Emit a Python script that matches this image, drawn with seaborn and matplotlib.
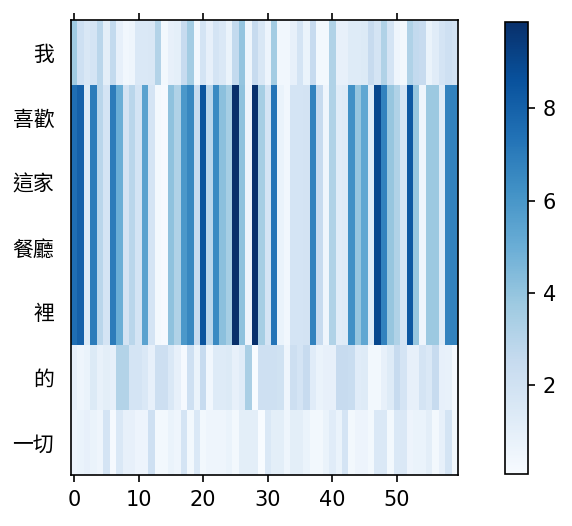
import numpy as np
import pandas as pd
import matplotlib
matplotlib.use("Agg")
import matplotlib.pyplot as plt
import seaborn as sns

# --- Data ---
row_labels = ["我", "喜歡", "這家", "餐廳", "裡", "的", "一切"]
x_tick_values = [0, 10, 20, 30, 40, 50]
cbar_ticks = [2, 4, 6, 8]

# row "我"
row_wo = [3.7, 2.1, 1.6, 1.8, 2.9, 1.1, 2.6, 0.9, 0.4, 0.5,
          1.5, 1.5, 1.6, 3.1, 0.3, 0.9, 1.0, 2.5, 3.6, 0.4,
          1.8, 0.9, 1.8, 1.5, 0.7, 2.6, 4.0, 0.5, 2.5, 1.6,
          0.6, 3.6, 0.4, 0.4, 0.9, 1.8, 0.7, 2.5, 0.3, 0.3,
          3.2, 0.9, 0.9, 1.3, 1.3, 1.4, 2.5, 1.8, 3.2, 1.8,
          0.5, 0.3, 3.2, 2.6, 2.5, 0.7, 1.2, 1.8, 2.1, 1.9]

# rows "喜歡", "這家", "餐廳", "裡" share the same values
row_block = [7.5, 8.0, 1.4, 7.0, 2.9, 1.8, 7.0, 5.0, 1.9, 2.9,
             1.8, 5.5, 1.8, 0.3, 0.2, 4.1, 3.2, 5.9, 6.6, 2.5,
             8.5, 2.9, 6.5, 4.2, 3.5, 9.87, 4.1, 0.6, 9.8, 3.5,
             1.8, 7.3, 0.7, 0.4, 1.8, 1.8, 1.9, 6.8, 2.5, 0.5,
             3.2, 1.2, 1.3, 6.2, 3.9, 5.3, 1.3, 9.0, 6.8, 3.9,
             3.2, 1.8, 8.4, 3.9, 0.5, 3.8, 3.8, 1.3, 6.8, 6.8]

# row "的"
row_de = [0.9, 0.5, 0.7, 1.4, 0.8, 1.1, 0.9, 3.1, 3.1, 1.8,
          1.8, 1.5, 0.9, 2.2, 2.2, 1.5, 0.9, 0.2, 2.1, 0.7,
          2.5, 0.4, 1.3, 1.3, 1.4, 0.9, 1.2, 3.4, 0.07, 2.1,
          2.1, 2.1, 2.0, 0.5, 2.2, 1.8, 2.5, 1.2, 0.7, 0.9,
          0.9, 2.5, 2.5, 2.4, 1.2, 1.3, 0.3, 0.3, 0.9, 1.3,
          2.5, 1.8, 0.9, 0.9, 1.8, 1.5, 2.5, 0.9, 0.8, 0.2]

# row "一切"
row_yiqie = [0.6, 0.7, 0.9, 0.7, 0.5, 1.8, 0.2, 1.5, 0.9, 0.9,
             0.6, 0.6, 2.1, 0.3, 0.3, 0.7, 0.5, 1.8, 0.3, 1.5,
             0.3, 0.5, 0.5, 0.5, 0.7, 0.3, 1.1, 1.1, 1.1, 0.1,
             1.5, 1.1, 1.1, 0.5, 1.1, 1.1, 0.7, 0.3, 0.3, 0.7,
             1.2, 0.7, 1.8, 0.3, 0.6, 0.6, 0.3, 1.5, 1.5, 0.3,
             1.5, 1.5, 0.6, 0.7, 0.7, 1.1, 0.3, 0.9, 1.8, 0.3]

matrix = pd.DataFrame(
    [row_wo, row_block, row_block, row_block, row_block, row_de, row_yiqie],
    index=row_labels,
)

plt.rcParams['font.family'] = ['DejaVu Sans', 'Noto Sans CJK TC']

fig = plt.figure(figsize=(572 / 150, 526 / 150), dpi=150)
ax = fig.add_axes([0.124, 0.097, 0.677, 0.865])
cax = fig.add_axes([0.883, 0.099, 0.040, 0.859])

sns.heatmap(matrix, cmap='Blues', ax=ax, cbar_ax=cax,
            xticklabels=False, yticklabels=False)

# frame around the heatmap and the colorbar (seaborn hides them)
for side in ax.spines.values():
    side.set_visible(True)
    side.set_color('black')
    side.set_linewidth(0.8)
cbar = ax.collections[0].colorbar
cbar.outline.set_visible(True)
cbar.outline.set_edgecolor('black')
cbar.outline.set_linewidth(0.8)
cbar.set_ticks(cbar_ticks)
cbar.ax.tick_params(labelsize=10)

# ticks like matshow: marks on top and bottom, labels at the bottom
ax.set_xticks([v + 0.5 for v in x_tick_values])
ax.set_xticklabels([str(v) for v in x_tick_values], rotation=0, fontsize=10)
ax.tick_params(axis='x', top=True, bottom=True, labeltop=False, labelbottom=True,
               direction='out', length=3.5)
ax.set_yticks(np.arange(len(row_labels)) + 0.5)
ax.set_yticklabels(row_labels, rotation=0, fontsize=10)
ax.tick_params(axis='y', length=0, pad=8)

fig.savefig("out.png", dpi=150)
